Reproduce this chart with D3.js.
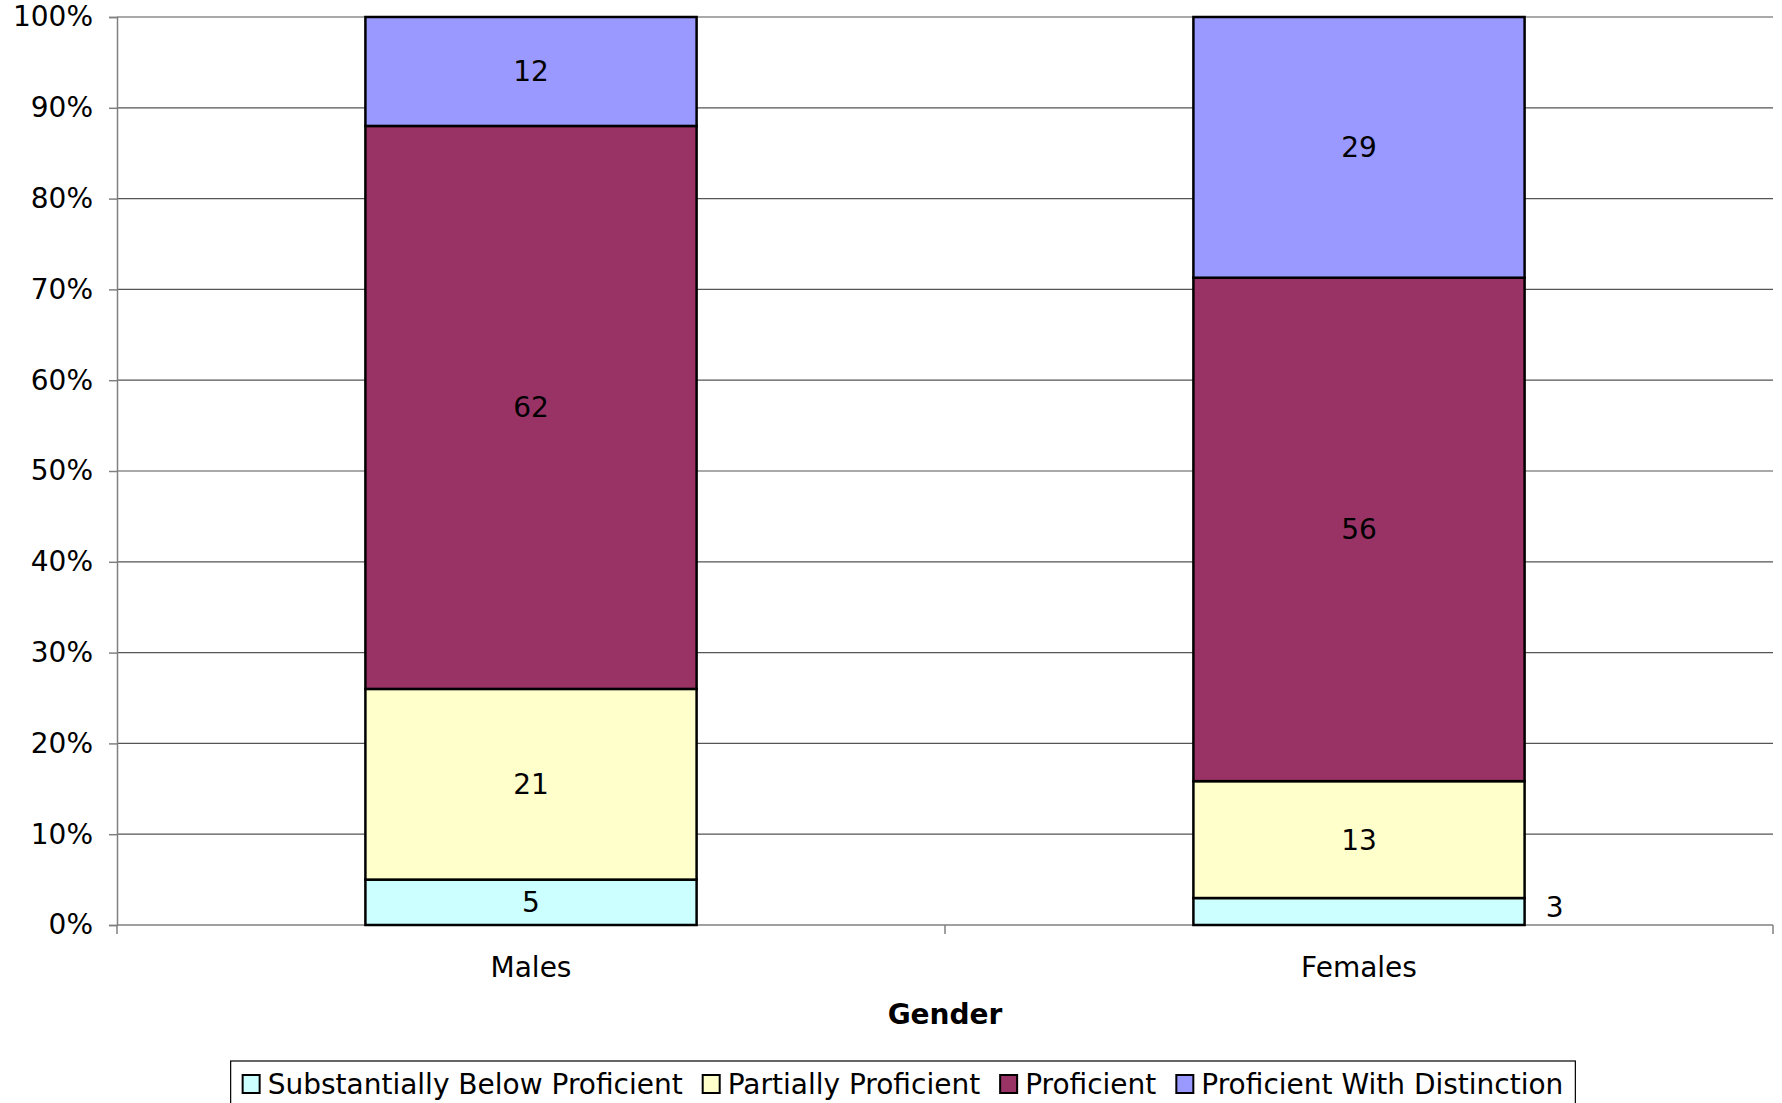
<!DOCTYPE html>
<html><head><meta charset="utf-8">
<script src="https://cdn.jsdelivr.net/npm/d3@7"></script>
<style>body{margin:0;background:#fff}svg{display:block}text{font-family:"DejaVu Sans",Verdana,sans-serif}</style>
</head><body><svg id="c" width="1782" height="1103"></svg>
<script>
const categories = ["Males", "Females"];
const seriesNames = ["Substantially Below Proficient", "Partially Proficient", "Proficient", "Proficient With Distinction"];
const substantiallyBelow = [5, 3];
const partiallyProficient = [21, 13];
const proficient = [62, 56];
const withDistinction = [12, 29];
const yTicks = [0, 0.1, 0.2, 0.3, 0.4, 0.5, 0.6, 0.7, 0.8, 0.9, 1.0];
const colors = ["#CCFFFF", "#FFFFCC", "#993366", "#9999FF"];
const xTitle = "Gender";

const rows = categories.map((c, i) => ({
  cat: c,
  [seriesNames[0]]: substantiallyBelow[i],
  [seriesNames[1]]: partiallyProficient[i],
  [seriesNames[2]]: proficient[i],
  [seriesNames[3]]: withDistinction[i]
}));

const FS = 28;
const svg = d3.select("#c");
const m = {l: 117, r: 1773, t: 17, b: 925};
const x = d3.scaleBand().domain(categories).range([m.l, m.r]);
const y = d3.scaleLinear().domain([0, 1]).range([m.b, m.t]);
const stack = d3.stack().keys(seriesNames).offset(d3.stackOffsetExpand);
const layers = stack(rows);
const barW = x.bandwidth() * 0.4;

// gridlines
svg.append("g").selectAll("line").data(yTicks.filter(t => t > 0)).join("line")
  .attr("x1", m.l).attr("x2", m.r).attr("y1", d => y(d)).attr("y2", d => y(d))
  .attr("stroke", "#555").attr("stroke-width", 1.2);

// y axis
const ya = svg.append("g").attr("transform", `translate(${m.l},0)`)
  .call(d3.axisLeft(y).tickValues(yTicks).tickFormat(d3.format(".0%")).tickSize(8).tickPadding(16));
ya.select(".domain").attr("stroke", "#808080").attr("stroke-width", 1.5);
ya.selectAll(".tick line").attr("stroke", "#808080").attr("stroke-width", 1.5);
ya.selectAll(".tick text").attr("font-size", FS).attr("fill", "#000").attr("font-family", "DejaVu Sans");

// x axis
const xa = svg.append("g").attr("transform", `translate(0,${m.b})`)
  .call(d3.axisBottom(x).tickSize(0).tickPadding(32));
xa.select(".domain").remove();
xa.selectAll(".tick text").attr("font-size", FS).attr("fill", "#000").attr("font-family", "DejaVu Sans");
svg.append("line").attr("x1", m.l).attr("x2", m.r).attr("y1", m.b).attr("y2", m.b)
  .attr("stroke", "#808080").attr("stroke-width", 1.5);
const bounds = [m.l, ...categories.slice(1).map(c => x(c)), m.r];
svg.append("g").selectAll("line").data(bounds).join("line")
  .attr("x1", d => d).attr("x2", d => d).attr("y1", m.b).attr("y2", m.b + 9)
  .attr("stroke", "#808080").attr("stroke-width", 1.5);

// bars
const g = svg.append("g");
layers.forEach((layer, li) => {
  g.append("g").selectAll("rect").data(layer).join("rect")
    .attr("x", d => x(d.data.cat) + (x.bandwidth() - barW) / 2)
    .attr("width", barW)
    .attr("y", d => y(d[1]))
    .attr("height", d => y(d[0]) - y(d[1]))
    .attr("fill", colors[li]).attr("stroke", "#000").attr("stroke-width", 2.5);
});
// labels
const small = d => (y(d[0]) - y(d[1])) < 30;
layers.forEach((layer, li) => {
  g.append("g").selectAll("text").data(layer).join("text")
    .attr("x", d => {
      const cx = x(d.data.cat) + x.bandwidth() / 2;
      return small(d) ? cx + barW / 2 + 30 : cx;
    })
    .attr("y", d => small(d) ? y(d[0]) - 8 : (y(d[0]) + y(d[1])) / 2 + 10)
    .attr("text-anchor", "middle").attr("font-size", FS).attr("fill", "#000")
    .text(d => d.data[layer.key]);
});

// x title
svg.append("text").attr("x", (m.l + m.r) / 2).attr("y", 1024).attr("text-anchor", "middle")
  .attr("font-size", FS).attr("font-weight", "bold").text(xTitle);

// legend
const lg = svg.append("g");
const legendBox = lg.append("rect").attr("fill", "#fff").attr("stroke", "#000").attr("stroke-width", 1.2);
const GAP = 20;
let cx = 0;
seriesNames.forEach((s, i) => {
  const it = lg.append("g");
  it.append("rect").attr("x", cx).attr("y", -19).attr("width", 17).attr("height", 18)
    .attr("fill", colors[i]).attr("stroke", "#000").attr("stroke-width", 2);
  const t = it.append("text").attr("x", cx + 25).attr("y", 0).attr("font-size", FS).text(s);
  cx += 25 + t.node().getComputedTextLength() + GAP;
});
const totalW = cx - GAP;
const lx = 903 - totalW / 2;
lg.attr("transform", `translate(${lx},1094)`);
legendBox.attr("x", -12).attr("y", -33).attr("width", totalW + 24).attr("height", 50);
</script></body></html>
